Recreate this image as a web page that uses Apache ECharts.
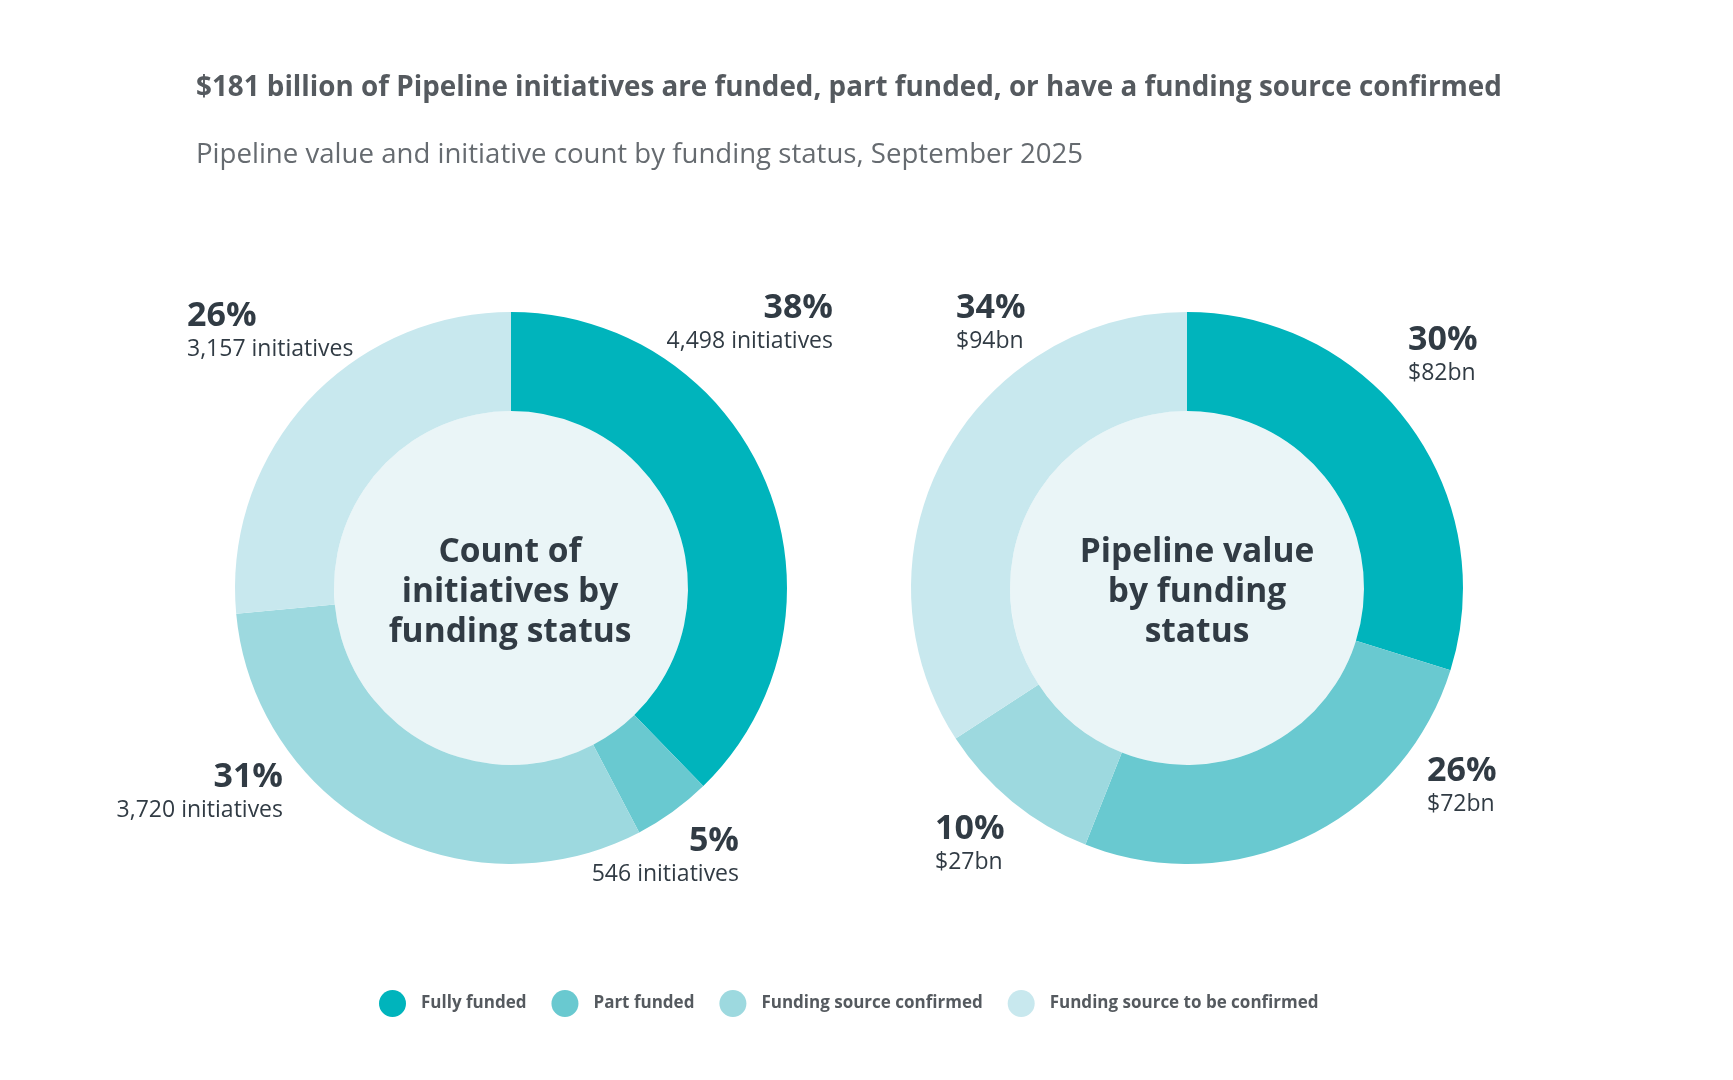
<!DOCTYPE html>
<html>
<head>
<meta charset="utf-8">
<script src="https://cdn.jsdelivr.net/npm/echarts@6/dist/echarts.min.js"></script>
<style>
  html, body { margin: 0; padding: 0; background: #ffffff; }
  #chart { width: 1733px; height: 1080px; }
</style>
</head>
<body>
<div id="chart"></div>
<script>
// ---- Data ----
const categories = ['Fully funded', 'Part funded', 'Funding source confirmed', 'Funding source to be confirmed'];
const countValues = [4498, 546, 3720, 3157];
const countPercents = ['38%', '5%', '31%', '26%'];
const countSubLabels = ['4,498 initiatives', '546 initiatives', '3,720 initiatives', '3,157 initiatives'];
const valueValues = [82, 72, 27, 94];
const valuePercents = ['30%', '26%', '10%', '34%'];
const valueSubLabels = ['$82bn', '$72bn', '$27bn', '$94bn'];
const centerLabels = ['Count of\ninitiatives by\nfunding status', 'Pipeline value\nby funding\nstatus'];
const titleText = '$181 billion of Pipeline initiatives are funded, part funded, or have a funding source confirmed';
const subtitleText = 'Pipeline value and initiative count by funding status, September 2025';

// ---- Style / layout ----
const colors = ['#00B4BC', '#69C9D0', '#9DD9DF', '#C8E8EE'];
const innerColor = '#EAF5F7';
const darkText = '#313B44';
const FONT = '"Open Sans", Lato, sans-serif';
const leftCenter = [511, 588];
const rightCenter = [1187, 588];
const outerR = 276, innerR = 177;
const countLabelPos = [
  {x: 833, y: 290, align: 'right'},
  {x: 739, y: 823, align: 'right'},
  {x: 283, y: 759, align: 'right'},
  {x: 187, y: 298, align: 'left'}
];
const valueLabelPos = [
  {x: 1408, y: 322, align: 'left'},
  {x: 1427, y: 753, align: 'left'},
  {x: 935, y: 811, align: 'left'},
  {x: 956, y: 290, align: 'left'}
];

const richStyles = {
  pct: { fontFamily: FONT, fontWeight: 'bold', fontSize: 34, lineHeight: 36, color: darkText },
  sub: { fontFamily: FONT, fontSize: 23, lineHeight: 30, color: darkText }
};

function donut(name, center, values, pcts, subs, pos) {
  return {
    name: name,
    type: 'pie',
    center: center,
    radius: [innerR, outerR],
    startAngle: 90,
    clockwise: true,
    silent: true,
    z: 2,
    data: values.map((v, i) => ({ name: categories[i], value: v, itemStyle: { color: colors[i] } })),
    label: {
      show: true,
      position: 'outside',
      formatter: p => '{pct|' + pcts[p.dataIndex] + '}\n{sub|' + subs[p.dataIndex] + '}',
      rich: richStyles
    },
    labelLine: { show: false },
    labelLayout: p => ({
      x: pos[p.dataIndex].x,
      y: pos[p.dataIndex].y,
      align: pos[p.dataIndex].align,
      verticalAlign: 'top',
      hideOverlap: false
    })
  };
}

function centerDisc(center, text, shift) {
  return {
    type: 'pie',
    center: center,
    radius: [0, innerR],
    silent: true,
    z: 1,
    data: [{ value: 1, name: 'center', itemStyle: { color: innerColor } }],
    label: {
      show: true,
      position: 'center',
      formatter: text,
      fontFamily: FONT,
      fontWeight: 'bold',
      fontSize: 33.5,
      lineHeight: 40,
      color: darkText,
      align: 'center'
    },
    labelLayout: { dx: shift[0], dy: shift[1] },
    labelLine: { show: false },
    legendHoverLink: false
  };
}

const chart = echarts.init(document.getElementById('chart'), null, { renderer: 'canvas' });
chart.setOption({
  backgroundColor: '#ffffff',
  animation: false,
  title: {
    text: titleText,
    subtext: subtitleText,
    left: 191,
    top: 68,
    itemGap: 37,
    textStyle: { fontFamily: FONT, fontWeight: 'bold', fontSize: 27.8, lineHeight: 30, color: '#555a5f' },
    subtextStyle: { fontFamily: FONT, fontWeight: 'normal', fontSize: 27.6, lineHeight: 30, color: '#666b70' }
  },
  legend: {
    data: categories,
    left: 379,
    top: 990,
    padding: 0,
    icon: 'circle',
    itemWidth: 27,
    itemHeight: 27,
    itemGap: 25,
    selectedMode: false,
    textStyle: { fontFamily: FONT, fontWeight: 'bold', fontSize: 17, color: '#555a5f', padding: [0, 0, 0, 10] }
  },
  series: [
    centerDisc(leftCenter, centerLabels[0], [-1, 4]),
    centerDisc(rightCenter, centerLabels[1], [10, 4]),
    donut('Count', leftCenter, countValues, countPercents, countSubLabels, countLabelPos),
    donut('Value', rightCenter, valueValues, valuePercents, valueSubLabels, valueLabelPos)
  ]
});
</script>
</body>
</html>
